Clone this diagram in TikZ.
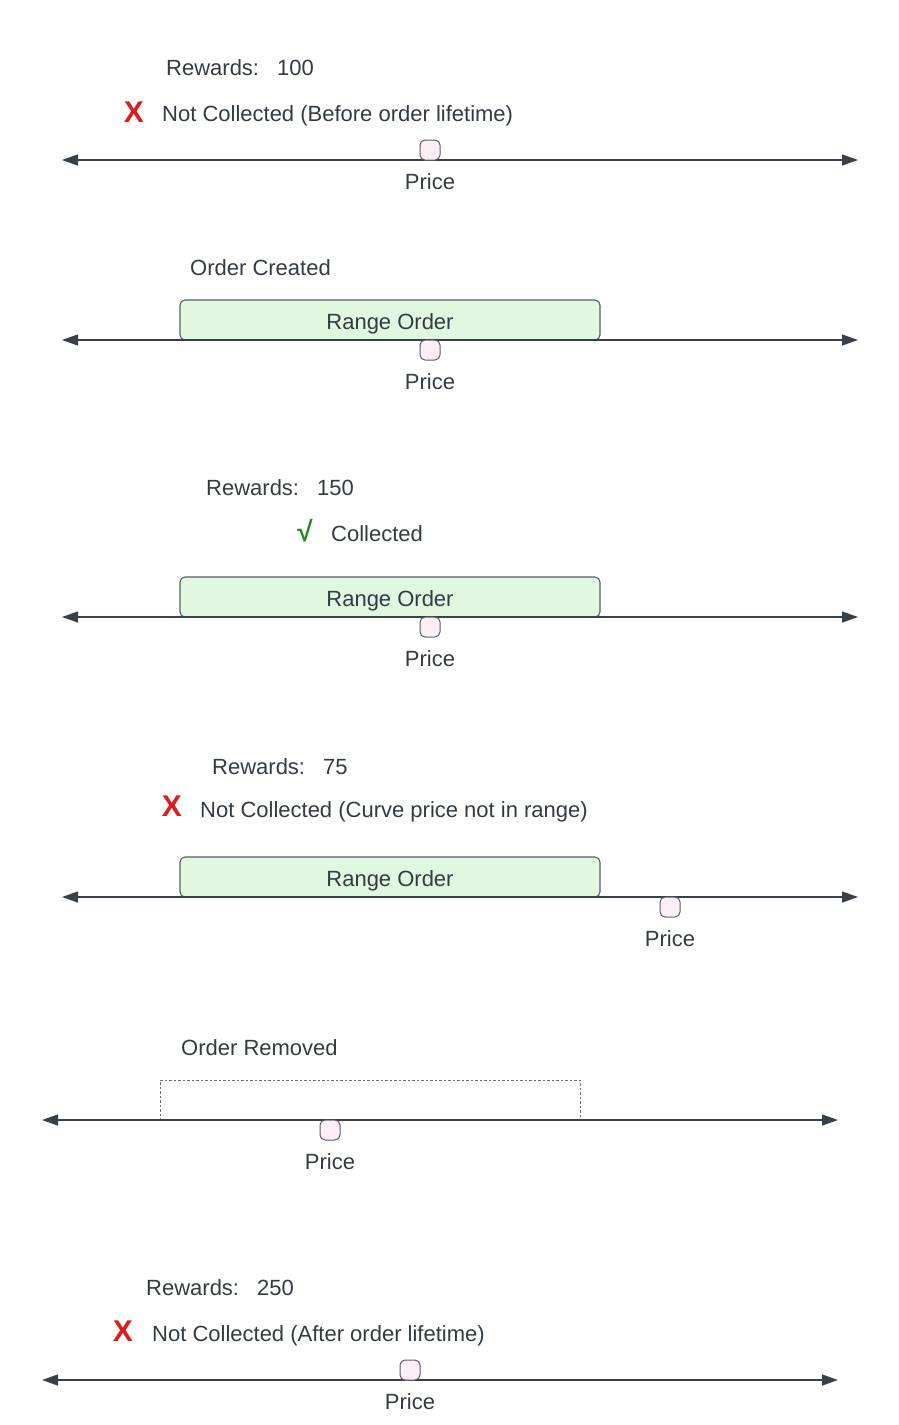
\documentclass[tikz,border=0pt]{standalone}
\usepackage{fontspec}
\setmainfont{Liberation Sans}
\usetikzlibrary{arrows.meta}
\definecolor{ink}{HTML}{333B44}
\definecolor{axisc}{HTML}{3A4049}
\definecolor{greenfill}{HTML}{E0F8DF}
\definecolor{pinkfill}{HTML}{FCEFF7}
\definecolor{xred}{HTML}{DD1C1C}
\definecolor{okgreen}{HTML}{1E8C1E}
\begin{document}
\begin{tikzpicture}[x=1pt,y=-1pt,
  lbl/.style={inner sep=0pt,text=ink,font=\fontsize{22pt}{26pt}\selectfont,text height=15.75pt,text depth=0pt,anchor=west},
  pricelbl/.style={lbl,anchor=center},
  xmark/.style={inner sep=0pt,text=xred,font=\fontsize{30pt}{34pt}\selectfont\bfseries,text height=21.5pt,text depth=0pt,anchor=center},
  okmark/.style={inner sep=0pt,text=okgreen,font=\fontsize{28pt}{31pt}\selectfont\bfseries,anchor=center},
  axisline/.style={draw=axisc,line width=1.3pt,{Triangle[length=16pt,width=11pt]}-{Triangle[length=16pt,width=11pt]}},
  rangebox/.style={draw=axisc!85,line width=1.1pt,fill=greenfill,rounded corners=5pt,minimum width=420pt,minimum height=40pt,inner sep=0pt,text=ink,font=\fontsize{22pt}{26pt}\selectfont,text height=19.8pt,text depth=0pt},
  removedbox/.style={draw=axisc!75,line width=1pt,dash pattern=on 2.5pt off 2pt,minimum width=420pt,minimum height=40pt,inner sep=0pt},
  pricemark/.style={draw=axisc!85,line width=1pt,fill=pinkfill,rounded corners=5pt,minimum width=20pt,minimum height=20pt,inner sep=0pt}
]
\useasboundingbox (0,0) rectangle (898,1425);

% ---- Section 1
\node[lbl] (r1) at (166,68) {Rewards:\hspace{18pt}100};
\node[xmark] (x1) at (134,112) {X};
\node[lbl] (n1) at (162,114) {Not Collected (Before order lifetime)};
\coordinate (a1l) at (62,160);
\coordinate (a1r) at (858,160);
\draw[axisline] (a1l) -- (a1r);
\node[pricemark] (p1) at (430,150) {};
\node[pricelbl] (pl1) at (430,182) {Price};

% ---- Section 2
\node[lbl] (oc) at (190,268) {Order Created};
\node[rangebox] (b2) at (390,320) {Range Order};
\coordinate (a2l) at (62,340);
\coordinate (a2r) at (858,340);
\draw[axisline] (a2l) -- (a2r);
\node[pricemark] (p2) at (430,350) {};
\node[pricelbl] (pl2) at (430,382) {Price};

% ---- Section 3
\node[lbl] (r3) at (206,488) {Rewards:\hspace{18pt}150};
\node[okmark] (c3) at (305,531) {√};
\node[lbl] (n3) at (331,534) {Collected};
\node[rangebox] (b3) at (390,597) {Range Order};
\coordinate (a3l) at (62,617);
\coordinate (a3r) at (858,617);
\draw[axisline] (a3l) -- (a3r);
\node[pricemark] (p3) at (430,627) {};
\node[pricelbl] (pl3) at (430,659) {Price};

% ---- Section 4
\node[lbl] (r4) at (212,767) {Rewards:\hspace{18pt}75};
\node[xmark] (x4) at (172,806) {X};
\node[lbl] (n4) at (200,810) {Not Collected (Curve price not in range)};
\node[rangebox] (b4) at (390,877) {Range Order};
\coordinate (a4l) at (62,897);
\coordinate (a4r) at (858,897);
\draw[axisline] (a4l) -- (a4r);
\node[pricemark] (p4) at (670,907) {};
\node[pricelbl] (pl4) at (670,939) {Price};

% ---- Section 5
\node[lbl] (orm) at (181,1048) {Order Removed};
\node[removedbox] (b5) at (370,1100) {};
\coordinate (a5l) at (42,1120);
\coordinate (a5r) at (838,1120);
\draw[axisline] (a5l) -- (a5r);
\node[pricemark] (p5) at (330,1130) {};
\node[pricelbl] (pl5) at (330,1162) {Price};

% ---- Section 6
\node[lbl] (r6) at (146,1288) {Rewards:\hspace{18pt}250};
\node[xmark] (x6) at (123,1331) {X};
\node[lbl] (n6) at (152,1334) {Not Collected (After order lifetime)};
\coordinate (a6l) at (42,1380);
\coordinate (a6r) at (838,1380);
\draw[axisline] (a6l) -- (a6r);
\node[pricemark] (p6) at (410,1370) {};
\node[pricelbl] (pl6) at (410,1402) {Price};
\end{tikzpicture}
\end{document}
